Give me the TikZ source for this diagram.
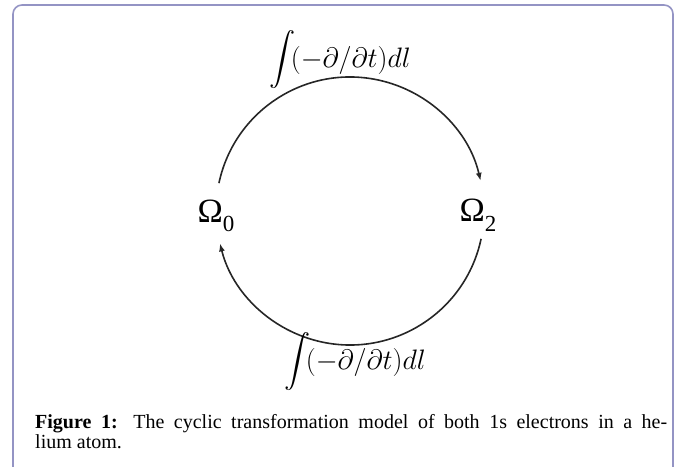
\documentclass[tikz,border=0pt]{standalone}
\usepackage{fontspec}
\setmainfont{Liberation Serif}
\usepackage{amsmath}
\usepackage{graphicx}
\usetikzlibrary{arrows.meta,calc}
\definecolor{framec}{HTML}{9494C4}
\newcommand{\lowsub}[1]{\raisebox{-0.28em}{\fontsize{23}{23}\selectfont #1}}
\newcommand{\oplab}{\scalebox{1.13}{$\vcenter{\hbox{\scalebox{0.93}{$\displaystyle\int$}}}\!(-\partial/\partial t)dl$}}

\begin{document}
\begin{tikzpicture}[x=1pt, y=1pt,
  omega/.style={inner sep=0pt, font=\fontsize{34}{34}\selectfont},
  oplabel/.style={inner sep=0pt, font=\fontsize{24.88}{25}\selectfont},
  arr/.style={-{Latex[length=8pt,width=6pt]}, line width=1.6pt, black!85},
  frame/.style={draw=framec, line width=1.6pt, rounded corners=9pt}
]
  \useasboundingbox (0,0) rectangle (679,466);
  \draw[frame] (13,-5) -- (13,461) -- (673,461) -- (673,-5);

  \coordinate (c) at (350,255);
  \node[omega] (om0) at (216,250) {Ω\lowsub{0}};
  \node[omega] (om2) at (478,251) {Ω\lowsub{2}};

  % ends of the two arcs on the circle
  \coordinate (a1) at ($(c)+(168:134)$);
  \coordinate (a2) at ($(c)+(-12:134)$);
  \draw[arr] (a1) arc[start angle=168, end angle=13, radius=134];
  \draw[arr] (a2) arc[start angle=-12, end angle=-166, radius=134];

  \node[oplabel] (optop) at (340,406) {\oplab};
  \node[oplabel] (opbot) at (355,104) {\oplab};

  \node[anchor=base west, align=left, inner sep=0pt, font=\fontsize{20}{20}\selectfont] (cap) at (35,18)
    {\makebox[632pt][s]{\textbf{Figure 1:} The cyclic transformation model of both 1s electrons in a he-}\\lium atom.};
\end{tikzpicture}
\end{document}
